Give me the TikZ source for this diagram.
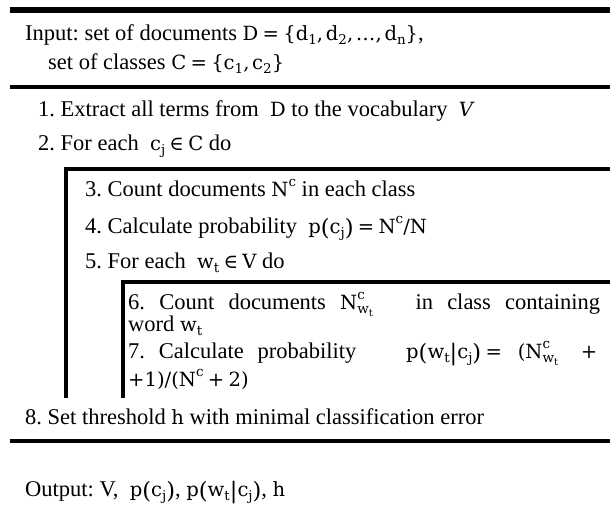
\documentclass[tikz,border=0pt]{standalone}
\usepackage{fontspec}
\setmainfont{Liberation Serif}
\newfontfamily\mathsym{DejaVu Serif}[Scale=0.87]
% formula pieces: letters set upright in the symbol face
\newcommand\ms[1]{{\mathsym #1}}
\newcommand\lo[1]{\raisebox{-0.25em}{\fontsize{15.5}{15.5}\selectfont #1}}
\newcommand\hi[1]{\raisebox{0.5em}{\fontsize{15.5}{15.5}\selectfont #1}}
\newcommand\llo[1]{\raisebox{-0.2em}{\fontsize{11.5}{11.5}\selectfont #1}}
\newcommand\Nwt{N\rlap{\hi{c}}\lo{w\llo{t}}}
\newcommand\bigp[1]{\raisebox{-0.12em}{\fontsize{26}{26}\selectfont #1}}
\newcommand\rel[1]{\hspace{0.22em}#1\hspace{0.22em}}
\newcommand\cm{,\hspace{0.14em}}

\tikzset{
  txt/.style={anchor=base west, inner sep=0pt, font=\fontsize{22.5}{26}\selectfont\frenchspacing},
  toprule/.style={line width=5.5pt},
  midrule/.style={line width=4pt},
  boxline/.style={line width=3.5pt, line join=miter},
}

\begin{document}
\begin{tikzpicture}[x=1pt,y=-1pt]
\useasboundingbox[fill=white] (0,0) rectangle (610,514);

% horizontal rules of the algorithm frame
\coordinate (r1a) at (10,10);  \coordinate (r1b) at (612,10);
\coordinate (r2a) at (10,87);  \coordinate (r2b) at (612,87);
\coordinate (r3a) at (10,441); \coordinate (r3b) at (612,441);
\draw[toprule] (r1a) -- (r1b);
\draw[midrule] (r2a) -- (r2b);
\draw[midrule] (r3a) -- (r3b);

% nested loop brackets
\coordinate (b1end) at (66,398);  \coordinate (b1top) at (612,169);
\coordinate (b2end) at (123,398); \coordinate (b2top) at (612,282);
\draw[boxline] (b1end) |- (b1top);
\draw[boxline] (b2end) |- (b2top);

% header
\node[txt] (in1) at (25,40) {Input: set of documents \ms{D\rel{=}\{d\lo{1}\cm d\lo{2}\cm …\cm d\lo{n}\}},};
\node[txt] (in2) at (48,69) {set of classes \ms{C\rel{=}\{c\lo{1}\cm c\lo{2}\}}};

% outer steps
\node[txt] (s1) at (38,116) {1. Extract all terms from\ \ \ms{D} to the vocabulary\ \ {\mathsym\itshape V}};
\node[txt] (s2) at (38,150) {2. For each\ \ \ms{c\lo{j}\rel{∈}C} do};

% first loop
\node[txt] (s3) at (85,196) {3. Count documents \ms{N\hi{c}} in each class};
\node[txt] (s4) at (85,233) {4. Calculate probability\ \ \ms{p\bigp{(}c\lo{j}\bigp{)}\rel{=}N\hi{c}/N}};
\node[txt] (s5) at (85,268) {5. For each\ \ \ms{w\lo{t}\rel{∈}V} do};

% inner loop
\node[txt] (s6) at (128,309) {\makebox[472pt][s]{6. Count documents \ms{\Nwt}\ \ \ in class containing}};
\node[txt] (s6b) at (128,331) {word \ms{w\lo{t}}};
\node[txt] (s7) at (128,358) {\makebox[469pt][l]{7.\hspace{0.45em plus 0.1fill}Calculate\hspace{0.45em plus 0.1fill}probability\hspace{0.6em plus 1fill}%
  \ms{p\bigp{(}w\lo{t}\bigp{|}c\lo{j}\bigp{)}\rel{=}\hspace{0.4em plus 0.1fill}(\Nwt\hspace{0.6em plus 0.3fill}+}}};
\node[txt] (s7b) at (128,386) {\ms{+1)/(N\hi{c}\rel{+}2)}};

% closing steps
\node[txt] (s8) at (25,424) {8. Set threshold \ms{h} with minimal classification error};
\node[txt] (out) at (25,496) {Output: V,\ \ \ms{p\bigp{(}c\lo{j}\bigp{)}}, \ms{p\bigp{(}w\lo{t}\bigp{|}c\lo{j}\bigp{)}}, \ms{h}};
\end{tikzpicture}
\end{document}
